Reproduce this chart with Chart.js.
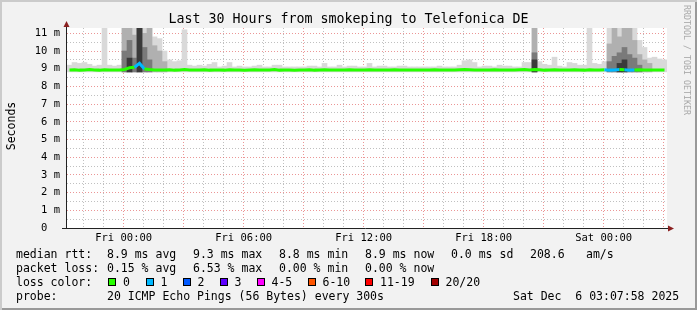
<!DOCTYPE html>
<html>
<head>
<meta charset="utf-8">
<script src="https://cdn.jsdelivr.net/npm/chart.js@4.4.1/dist/chart.umd.min.js"></script>
<style>
  html, body { margin: 0; padding: 0; background: #fff; }
  #frame {
    position: relative; width: 697px; height: 310px; overflow: hidden;
    background: #f2f2f2;
    box-shadow: inset 2px 2px 0 #cbcbcb, inset -2px -2px 0 #999;
    font-family: "DejaVu Sans Mono", monospace; color: #000;
  }
  #chart { position: absolute; left: 0; top: 0; }
  .t { position: absolute; white-space: pre; font-size: 11.5px; line-height: 12px; }
  .sw { position: absolute; width: 8px; height: 8px; box-sizing: border-box; border: 1px solid #000; }
</style>
</head>
<body>
<div id="frame">
  <canvas id="chart" width="697" height="310"></canvas>
  <div class="t" style="left:0;width:697px;text-align:center;top:12px;font-size:13.3px;line-height:14px;">Last 30 Hours from smokeping to Telefonica DE</div>
  <div class="t" style="left:-19px;top:120px;width:60px;text-align:center;transform:rotate(-90deg);">Seconds</div>
  <div class="t" style="left:627px;top:55px;width:120px;text-align:center;font-size:8.3px;line-height:10px;color:#a8a8a8;transform:rotate(90deg);">RRDTOOL / TOBI OETIKER</div>

  <div class="t" style="left:16px;top:248px;">median rtt:</div>
  <div class="t" style="left:107px;top:248px;">8.9 ms avg</div>
  <div class="t" style="left:193px;top:248px;">9.3 ms max</div>
  <div class="t" style="left:279px;top:248px;">8.8 ms min</div>
  <div class="t" style="left:365px;top:248px;">8.9 ms now</div>
  <div class="t" style="left:451px;top:248px;">0.0 ms sd</div>
  <div class="t" style="left:530px;top:248px;">208.6</div>
  <div class="t" style="left:586px;top:248px;">am/s</div>

  <div class="t" style="left:16px;top:262px;">packet loss:</div>
  <div class="t" style="left:107px;top:262px;">0.15 % avg</div>
  <div class="t" style="left:193px;top:262px;">6.53 % max</div>
  <div class="t" style="left:279px;top:262px;">0.00 % min</div>
  <div class="t" style="left:365px;top:262px;">0.00 % now</div>

  <div class="t" style="left:16px;top:276px;">loss color:</div>
  <div id="lossLegend"></div>

  <div class="t" style="left:16px;top:290px;">probe:</div>
  <div class="t" style="left:107px;top:290px;">20 ICMP Echo Pings (56 Bytes) every 300s</div>
  <div class="t" style="left:513px;top:290px;">Sat Dec  6 03:07:58 2025</div>
</div>
<script>
// time axis: hours relative to Fri 00:00, one bin = 15 minutes
const startHour = -17 / 6;   // Thu 21:10
const endHour = startHour + 30;
const stepHours = 0.25;
const smokeFloor = 8.82;

// highest ping per bin (light smoke), ms
const lightTop = [
  9.2, 9.35, 9.3, 9.35, 9.25, 9.15, 9.2, 11.3, 9.2, 9.15,
  9.2, 11.3, 11.3, 11.3, 11.3, 11.3, 11.3, 10.8, 10.7, 10.0,
  9.5, 9.4, 9.45, 11.2, 9.2, 9.15, 9.2, 9.15, 9.25, 9.35,
  9.1, 9.15, 9.35, 9.1, 9.15, 9.1, 9.1, 9.15, 9.2, 9.1,
  9.1, 9.2, 9.2, 9.1, 9.1, 9.1, 9.1, 9.1, 9.15, 9.15,
  9.1, 9.3, 9.1, 9.1, 9.2, 9.1, 9.15, 9.15, 9.1, 9.1,
  9.3, 9.1, 9.15, 9.15, 9.1, 9.1, 9.15, 9.15, 9.1, 9.1,
  9.1, 9.1, 9.1, 9.1, 9.15, 9.1, 9.1, 9.1, 9.2, 9.45,
  9.5, 9.35, 9.1, 9.15, 9.15, 9.1, 9.2, 9.15, 9.15, 9.1,
  9.1, 9.35, 9.35, 11.3, 9.4, 9.25, 9.2, 9.65, 9.15, 9.1,
  9.35, 9.3, 9.2, 9.2, 11.3, 9.3, 9.25, 9.4, 11.3, 11.3,
  11.3, 11.3, 11.3, 11.3, 10.6, 10.2, 9.6, 9.65, 9.55, 9.5
];

// denser smoke layers, only where they rise above the median
const midBins = [11, 12, 13, 14, 15, 16, 17, 18, 19, 93, 108, 109, 110, 111, 112, 113, 114, 115, 116];
const midTop = [11.3, 11.3, 10.9, 11.3, 11.0, 11.3, 10.3, 10.0, 9.4, 11.3, 10.4, 11.3, 10.8, 11.3, 11.3, 10.6, 9.8, 9.5, 9.3];
const darkBins = [11, 12, 13, 14, 15, 16, 93, 108, 109, 110, 111, 112, 113, 114];
const darkTop = [10.0, 10.6, 9.6, 11.3, 10.2, 9.5, 9.9, 9.4, 9.7, 9.9, 10.2, 9.8, 9.6, 9.2];
const blackBins = [12, 14, 93, 110, 111];
const blackTop = [9.6, 11.3, 9.5, 9.3, 9.5];

// median rtt per bin, ms
const medianRtt = [
  8.93, 8.94, 8.92, 8.93, 8.95, 8.93, 8.92, 8.94, 8.93, 8.92,
  8.93, 8.96, 9.05, 9.08, 9.30, 8.98, 8.95, 8.93, 8.92, 8.93,
  8.94, 8.92, 8.93, 8.95, 8.93, 8.92, 8.93, 8.94, 8.92, 8.93,
  8.93, 8.92, 8.94, 8.93, 8.93, 8.91, 8.93, 8.94, 8.93, 8.92,
  8.93, 8.95, 8.92, 8.93, 8.93, 8.91, 8.93, 8.93, 8.94, 8.92,
  8.93, 8.94, 8.93, 8.92, 8.93, 8.93, 8.94, 8.93, 8.92, 8.93,
  8.94, 8.93, 8.92, 8.93, 8.93, 8.94, 8.93, 8.92, 8.93, 8.93,
  8.93, 8.92, 8.93, 8.94, 8.93, 8.93, 8.92, 8.93, 8.94, 8.95,
  8.94, 8.93, 8.92, 8.93, 8.93, 8.94, 8.93, 8.92, 8.93, 8.93,
  8.94, 8.95, 8.93, 8.96, 8.94, 8.92, 8.93, 8.94, 8.93, 8.92,
  8.93, 8.94, 8.93, 8.92, 8.94, 8.93, 8.93, 8.94, 8.92, 8.93,
  8.95, 8.94, 8.92, 8.93, 8.94, 8.93, 8.92, 8.93, 8.93, 8.92
];

// bins with packet loss (index into lossColors)
const lossBins = [14, 15, 108, 109, 110, 112, 113];
const lossLevel = [1, 1, 1, 1, 1, 1, 1];

const lossLabels = ["0", "1", "2", "3", "4-5", "6-10", "11-19", "20/20"];
const lossColors = ["#26ff00", "#00b8ff", "#0059ff", "#5e00ff", "#ff00ff", "#ff5500", "#ff0000", "#a10000"];

const xTickHours = [0, 6, 12, 18, 24];
const xTickLabels = ["Fri 00:00", "Fri 06:00", "Fri 12:00", "Fri 18:00", "Sat 00:00"];
const yTickValues = [0, 1, 2, 3, 4, 5, 6, 7, 8, 9, 10, 11];
const yTickLabels = ["0  ", "1 m", "2 m", "3 m", "4 m", "5 m", "6 m", "7 m", "8 m", "9 m", "10 m", "11 m"];

// legend swatches
const swatchLeft = [108, 145.5, 182.5, 219.5, 256.5, 307.5, 365, 430.5];
const legendBox = document.getElementById("lossLegend");
lossLabels.forEach((label, i) => {
  const sw = document.createElement("div");
  sw.className = "sw";
  sw.style.left = swatchLeft[i] + "px";
  sw.style.top = "278px";
  sw.style.background = lossColors[i];
  legendBox.appendChild(sw);
  const txt = document.createElement("div");
  txt.className = "t";
  txt.style.left = (swatchLeft[i] + 15) + "px";
  txt.style.top = "276px";
  txt.textContent = label;
  legendBox.appendChild(txt);
});

const binCenter = (i) => startHour + stepHours * (i + 0.5);
const fullBars = (tops) => tops.map((top, i) => ({ x: binCenter(i), y: [smokeFloor, top] }));
const sparseBars = (bins, tops) => bins.map((bin, k) => ({ x: binCenter(bin), y: [smokeFloor, tops[k]] }));

const lossAt = medianRtt.map(() => 0);
lossBins.forEach((bin, k) => { lossAt[bin] = lossLevel[k]; });

const majorGrid = "rgba(222,80,80,0.6)";
const minorGrid = "rgba(130,130,130,0.5)";
const tickFont = { family: "DejaVu Sans Mono", size: 10.5 };

function smokeSet(data, color, order) {
  return {
    type: "bar",
    data,
    backgroundColor: color,
    borderWidth: 0,
    grouped: false,
    barPercentage: 1,
    categoryPercentage: 1,
    order
  };
}

const rrdFrame = {
  id: "rrdFrame",
  beforeDraw(chart) {
    const { ctx, chartArea: a } = chart;
    ctx.save();
    ctx.fillStyle = "#fff";
    ctx.fillRect(a.left, a.top, a.right - a.left, a.bottom - a.top);
    ctx.restore();
  },
  afterDraw(chart) {
    const { ctx, chartArea: a } = chart;
    ctx.save();
    ctx.strokeStyle = "#222";
    ctx.lineWidth = 1;
    ctx.beginPath();
    ctx.moveTo(a.left - 0.5, a.bottom + 1);
    ctx.lineTo(a.left - 0.5, a.top - 2);
    ctx.moveTo(a.left - 5, a.bottom + 0.5);
    ctx.lineTo(a.right + 2, a.bottom + 0.5);
    ctx.stroke();
    ctx.fillStyle = "#8b2020";
    ctx.beginPath();
    ctx.moveTo(a.left - 3.5, a.top - 1);
    ctx.lineTo(a.left + 2.5, a.top - 1);
    ctx.lineTo(a.left - 0.5, a.top - 7);
    ctx.closePath();
    ctx.fill();
    ctx.beginPath();
    ctx.moveTo(a.right + 1, a.bottom - 2.5);
    ctx.lineTo(a.right + 1, a.bottom + 3.5);
    ctx.lineTo(a.right + 7, a.bottom + 0.5);
    ctx.closePath();
    ctx.fill();
    ctx.restore();
  }
};

new Chart(document.getElementById("chart").getContext("2d"), {
  type: "bar",
  data: {
    datasets: [
      {
        type: "line",
        data: medianRtt.map((v, i) => ({ x: binCenter(i), y: v })),
        borderColor: lossColors[0],
        borderWidth: 3,
        pointRadius: 0,
        tension: 0,
        segment: { borderColor: (ctx) => lossColors[lossAt[ctx.p1DataIndex]] },
        order: 0
      },
      smokeSet(sparseBars(blackBins, blackTop), "#3a3a3a", 1),
      smokeSet(sparseBars(darkBins, darkTop), "#7a7a7a", 2),
      smokeSet(sparseBars(midBins, midTop), "#b0b0b0", 3),
      smokeSet(fullBars(lightTop), "#d9d9d9", 4)
    ]
  },
  options: {
    responsive: false,
    animation: false,
    devicePixelRatio: 1,
    layout: { padding: { left: 0, top: 28, right: 30, bottom: 0 } },
    plugins: { legend: { display: false }, tooltip: { enabled: false }, title: { display: false } },
    scales: {
      x: {
        type: "linear",
        min: startHour,
        max: endHour,
        offset: false,
        afterFit: (scale) => { scale.height = 82; },
        afterBuildTicks: (scale) => {
          const ticks = [];
          for (let h = Math.ceil(startHour); h <= endHour; h++) ticks.push({ value: h });
          scale.ticks = ticks;
        },
        grid: {
          offset: false,
          drawTicks: false,
          color: (ctx) => (ctx.tick && ctx.tick.value % 3 === 0 ? majorGrid : minorGrid)
        },
        border: { display: false, dash: [1, 2] },
        ticks: {
          autoSkip: false,
          maxRotation: 0,
          padding: 4,
          color: "#000",
          font: tickFont,
          callback: (value) => {
            const k = xTickHours.indexOf(value);
            return k >= 0 ? xTickLabels[k] : "";
          }
        }
      },
      y: {
        min: 0,
        max: 11.3,
        afterFit: (scale) => { scale.width = 67; },
        afterBuildTicks: (scale) => {
          const ticks = [];
          for (let v = 0; v <= 11; v += 0.5) ticks.push({ value: v });
          scale.ticks = ticks;
        },
        grid: {
          drawTicks: false,
          color: (ctx) => (ctx.tick && Number.isInteger(ctx.tick.value) ? majorGrid : minorGrid)
        },
        border: { display: false, dash: [1, 2] },
        ticks: {
          autoSkip: false,
          padding: 7,
          color: "#000",
          font: tickFont,
          callback: (value) => {
            const k = yTickValues.indexOf(value);
            return k >= 0 ? yTickLabels[k] : "";
          }
        }
      }
    }
  },
  plugins: [rrdFrame]
});
</script>
</body>
</html>
